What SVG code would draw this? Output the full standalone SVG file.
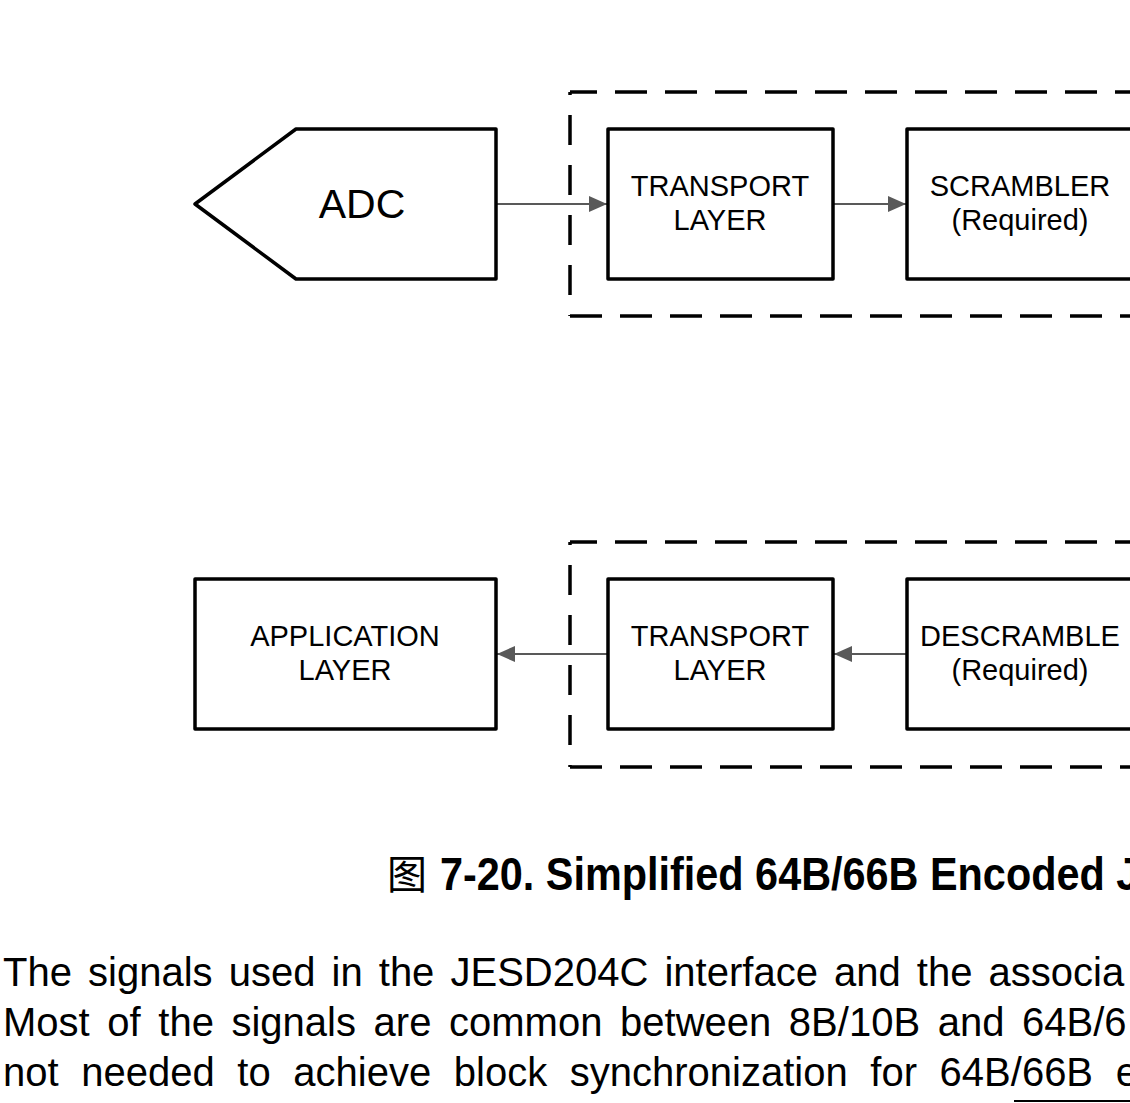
<svg xmlns="http://www.w3.org/2000/svg" width="1130" height="1103" viewBox="0 0 1130 1103">
<style>
.box{fill:#fff;stroke:#000;stroke-width:3.5;stroke-linejoin:round}
.dash{fill:none;stroke:#000;stroke-width:3.5;stroke-dasharray:32 18;stroke-linecap:butt}
.dashv{fill:none;stroke:#000;stroke-width:3.5;stroke-dasharray:30 20}
.conn{stroke:#595959;stroke-width:2;fill:none}
.lbl{font-family:"Liberation Sans",Arial,sans-serif;font-size:29px;fill:#000;text-anchor:middle}
.body{font-family:"Liberation Sans",Arial,sans-serif;font-size:40px;fill:#000}
.cap{font-family:"Liberation Sans",Arial,sans-serif;font-size:46px;font-weight:bold;fill:#000}
</style>
<defs>
<marker id="ah" markerWidth="18" markerHeight="16" refX="18" refY="8" orient="auto" markerUnits="userSpaceOnUse">
<path d="M0,0 L18,8 L0,16 Z" fill="#595959"/>
</marker>
</defs>
<rect width="1130" height="1103" fill="#fff"/>

<g id="group-tx">
<path class="dash" d="M570,92 H1200" stroke-dashoffset="5"/>
<path class="dash" d="M570,316 H1200"/>
<path class="dashv" d="M570,92 V316" stroke-dashoffset="27"/>
</g>
<g id="group-rx">
<path class="dash" d="M570,542 H1200" stroke-dashoffset="5"/>
<path class="dash" d="M570,767 H1200"/>
<path class="dashv" d="M570,542 V767" stroke-dashoffset="27"/>
</g>

<g id="connectors">
<line class="conn" x1="496" y1="204" x2="607" y2="204" marker-end="url(#ah)"/>
<line class="conn" x1="833" y1="204" x2="906" y2="204" marker-end="url(#ah)"/>
<line class="conn" x1="607" y1="654" x2="497" y2="654" marker-end="url(#ah)"/>
<line class="conn" x1="907" y1="654" x2="834" y2="654" marker-end="url(#ah)"/>
</g>

<g id="adc">
<polygon class="box" points="195,204 296,129 496,129 496,279 296,279"/>
<text class="lbl" x="362" y="218" style="font-size:41px">ADC</text>
</g>
<g id="transport-tx">
<rect class="box" x="608" y="129" width="225" height="150"/>
<text class="lbl" x="720" y="196">TRANSPORT</text>
<text class="lbl" x="720" y="230">LAYER</text>
</g>
<g id="scrambler">
<rect class="box" x="907" y="129" width="226" height="150"/>
<text class="lbl" x="1020" y="196">SCRAMBLER</text>
<text class="lbl" x="1020" y="230">(Required)</text>
</g>
<g id="application">
<rect class="box" x="195" y="579" width="301" height="150"/>
<text class="lbl" x="345" y="646">APPLICATION</text>
<text class="lbl" x="345" y="680">LAYER</text>
</g>
<g id="transport-rx">
<rect class="box" x="608" y="579" width="225" height="150"/>
<text class="lbl" x="720" y="646">TRANSPORT</text>
<text class="lbl" x="720" y="680">LAYER</text>
</g>
<g id="descramble">
<rect class="box" x="907" y="579" width="226" height="150"/>
<text class="lbl" x="1020" y="646">DESCRAMBLE</text>
<text class="lbl" x="1020" y="680">(Required)</text>
</g>

<g id="caption">
<text x="387" y="889" style="font-family:'Noto Sans CJK SC',sans-serif;font-size:40px">图</text>
<text class="cap" transform="scale(0.9,1)" x="488.9" y="890">7-20. Simplified 64B/66B Encoded J</text>
</g>
<g id="body">
<text class="body" x="3" y="986" style="word-spacing:5px">The signals used in the JESD204C interface and the associa</text>
<text class="body" x="3" y="1036" style="word-spacing:6.5px">Most of the signals are common between 8B/10B and 64B/6</text>
<text class="body" x="3" y="1086" style="word-spacing:11.5px">not needed to achieve block synchronization for 64B/66B e</text>
<line x1="1014" y1="1101" x2="1130" y2="1101" stroke="#000" stroke-width="2"/>
</g>
</svg>
